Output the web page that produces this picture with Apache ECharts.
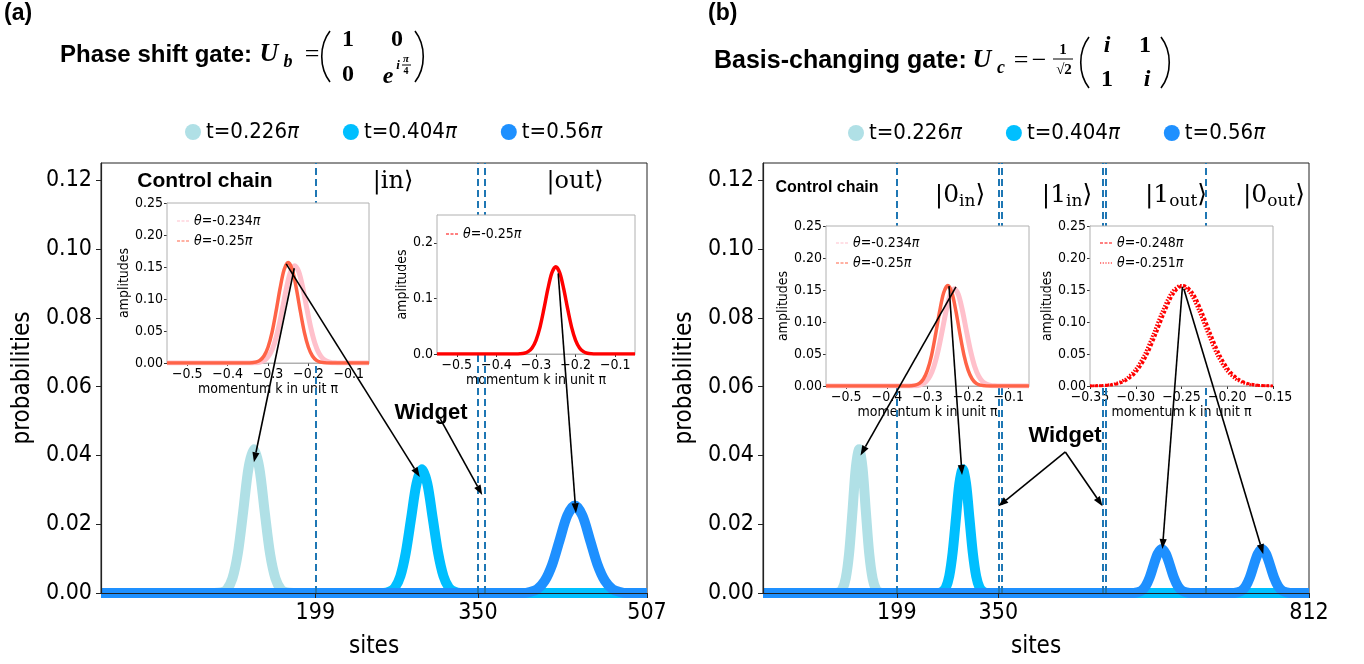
<!DOCTYPE html>
<html>
<head>
<meta charset="utf-8">
<title>Wave packet probabilities</title>
<script src="https://cdn.jsdelivr.net/npm/echarts@6.0.0/dist/echarts.min.js"></script>
<style>
  html, body { margin: 0; padding: 0; background: #fff; }
  #chart { width: 1364px; height: 664px; }
</style>
</head>
<body>
<div id="chart"></div>
<script>
// ---------- values ----------
const seriesNames = ['t=0.226π', 't=0.404π', 't=0.56π']
const seriesColors = ['#B0E0E6', '#00BFFF', '#1E90FF']

const probTicks = [0, 0.02, 0.04, 0.06, 0.08, 0.10, 0.12]
const siteTicksA = [199, 350, 507]
const siteTicksB = [199, 350, 812]
const wallSitesA = [199, 350, 356]
const wallSitesB = [199, 350, 355, 505, 510, 659]

// panel (a) probabilities  [site, probability]
const lightA = [[0,0],[105,0],[112,0.0002],[117,0.0011],[122,0.0042],[127,0.0114],[132,0.0236],[137,0.0364],[142,0.0418],[147,0.0364],[152,0.0236],[157,0.0114],[162,0.0042],[167,0.0011],[172,0.0002],[179,0],[507,0]]
const cyanA = [[0,0],[262,0],[268,0.0004],[273,0.0016],[278,0.0049],[283,0.0117],[288,0.0218],[293,0.0318],[298,0.036],[303,0.0318],[308,0.0218],[313,0.0117],[318,0.0049],[323,0.0016],[328,0.0004],[334,0],[507,0]]
const blueA = [[0,0],[392,0],[398,0.0003],[405,0.0011],[412,0.0035],[419,0.0083],[426,0.0155],[433,0.0225],[440,0.0254],[447,0.0225],[454,0.0155],[461,0.0083],[468,0.0035],[475,0.0011],[482,0.0003],[488,0],[507,0]]

// panel (b) probabilities
const lightB = [[0,0],[106,0],[113,0.0002],[118,0.0011],[123,0.0042],[128,0.0114],[133,0.0236],[138,0.0364],[143,0.0418],[148,0.0364],[153,0.0236],[158,0.0114],[163,0.0042],[168,0.0011],[173,0.0002],[180,0],[812,0]]
const cyanB = [[0,0],[261,0],[267,0.0004],[272,0.0016],[277,0.0049],[282,0.0117],[287,0.0218],[292,0.0318],[297,0.036],[302,0.0318],[307,0.0218],[312,0.0117],[317,0.0049],[322,0.0016],[327,0.0004],[333,0],[812,0]]
const blueB = [[0,0],[551,0],[557,0.0002],[563,0.0007],[569,0.002],[575,0.0045],[581,0.0081],[587,0.0114],[593,0.0128],[599,0.0114],[605,0.0081],[611,0.0045],[617,0.002],[623,0.0007],[629,0.0002],[635,0],[700,0],[706,0.0002],[712,0.0007],[718,0.002],[724,0.0045],[730,0.0081],[736,0.0114],[742,0.0128],[748,0.0114],[754,0.0081],[760,0.0045],[766,0.002],[772,0.0007],[778,0.0002],[784,0],[812,0]]

// insets: amplitudes vs momentum k (unit pi)
const kTicksWide = [-0.5, -0.4, -0.3, -0.2, -0.1]
const kTicksNarrow = [-0.35, -0.30, -0.25, -0.20, -0.15]
const ampTicks = [0, 0.05, 0.10, 0.15, 0.20, 0.25]
const ampTicksCoarse = [0, 0.1, 0.2]
const pink234 = [[-0.55,0],[-0.344,0],[-0.334,0.0003],[-0.324,0.0009],[-0.314,0.0026],[-0.304,0.0067],[-0.294,0.0153],[-0.284,0.0309],[-0.274,0.0548],[-0.264,0.0856],[-0.254,0.1178],[-0.244,0.1426],[-0.234,0.152],[-0.224,0.1426],[-0.214,0.1178],[-0.204,0.0856],[-0.194,0.0548],[-0.184,0.0309],[-0.174,0.0153],[-0.164,0.0067],[-0.154,0.0026],[-0.144,0.0009],[-0.134,0.0003],[-0.124,0],[-0.05,0]]
const tomato25 = [[-0.55,0],[-0.35,0],[-0.34,0.0004],[-0.33,0.0014],[-0.32,0.0042],[-0.31,0.011],[-0.30,0.0247],[-0.29,0.048],[-0.28,0.081],[-0.27,0.117],[-0.26,0.146],[-0.25,0.157],[-0.24,0.146],[-0.23,0.117],[-0.22,0.081],[-0.21,0.048],[-0.20,0.0247],[-0.19,0.011],[-0.18,0.0042],[-0.17,0.0014],[-0.16,0.0004],[-0.15,0],[-0.05,0]]
const red248 = [[-0.35,0],[-0.348,0.0001],[-0.338,0.0004],[-0.328,0.0014],[-0.318,0.0042],[-0.308,0.011],[-0.298,0.0247],[-0.288,0.048],[-0.278,0.081],[-0.268,0.117],[-0.258,0.146],[-0.248,0.157],[-0.238,0.146],[-0.228,0.117],[-0.218,0.081],[-0.208,0.048],[-0.198,0.0247],[-0.188,0.011],[-0.178,0.0042],[-0.168,0.0014],[-0.158,0.0004],[-0.15,0.0001]]
const red251 = [[-0.35,0.0001],[-0.341,0.0004],[-0.331,0.0014],[-0.321,0.0042],[-0.311,0.011],[-0.301,0.0247],[-0.291,0.048],[-0.281,0.081],[-0.271,0.117],[-0.261,0.146],[-0.251,0.157],[-0.241,0.146],[-0.231,0.117],[-0.221,0.081],[-0.211,0.048],[-0.201,0.0247],[-0.191,0.011],[-0.181,0.0042],[-0.171,0.0014],[-0.161,0.0004],[-0.151,0.0001]]

// arrows: [fromGrid, x, y, toGrid, x, y]
const arrowList = [
    [1, -0.235, 0.148, 0, 142, 0.038],
    [1, -0.255, 0.155, 0, 296, 0.0337],
    [2, -0.244, 0.145, 0, 441, 0.0232],
    [0, 315, 0.0506, 0, 354, 0.0285],
    [4, -0.230, 0.155, 3, 145, 0.040],
    [4, -0.247, 0.156, 3, 296, 0.0343],
    [5, -0.249, 0.155, 3, 594, 0.0128],
    [5, -0.2475, 0.152, 3, 744, 0.0113],
    [3, 449.6, 0.041, 3, 350, 0.0252],
    [3, 449.6, 0.041, 3, 505, 0.0252]
]

// ---------- styles ----------
const SANS = '"DejaVu Sans Condensed", "DejaVu Sans", sans-serif'
const ARIAL = '"Liberation Sans", Arial, sans-serif'
const SERIF = '"DejaVu Serif", "Liberation Serif", serif'
const MATH = '"Liberation Serif", "DejaVu Serif", serif'
const WALL = '#1f77b4'
const DASH_ICON = 'path://M0,0h4v1.4h-4z M6,0h4v1.4h-4z M12,0h4v1.4h-4z'
const DOT_ICON = 'path://M0,0h1.6v1.4h-1.6z M3.6,0h1.6v1.4h-1.6z M7.2,0h1.6v1.4h-1.6z M10.8,0h1.6v1.4h-1.6z M14.4,0h1.6v1.4h-1.6z'

const chart = echarts.init(document.getElementById('chart'))

function minusFmt(d) {
    return v => (v < 0 ? '\u2212' : '') + Math.abs(v).toFixed(d)
}
function stripName(n) { return n.replace(/\u200b/g, '') }

const grids = [
    { left: 101, top: 163, width: 546, height: 434, show: true, borderColor: '#222', borderWidth: 1, z: 1 },
    { left: 167, top: 203, width: 202, height: 160, show: true, backgroundColor: '#fff', borderColor: '#b0b0b0', borderWidth: 1, z: 10 },
    { left: 437, top: 215, width: 198, height: 139, show: true, backgroundColor: '#fff', borderColor: '#b0b0b0', borderWidth: 1, z: 10 },
    { left: 763, top: 163, width: 546, height: 434, show: true, borderColor: '#222', borderWidth: 1, z: 1 },
    { left: 826, top: 226, width: 203, height: 160, show: true, backgroundColor: '#fff', borderColor: '#b0b0b0', borderWidth: 1, z: 10 },
    { left: 1090, top: 226, width: 183, height: 160, show: true, backgroundColor: '#fff', borderColor: '#b0b0b0', borderWidth: 1, z: 10 }
]

function mainX(gi, max, ticks) {
    return {
        gridIndex: gi, type: 'value', min: 0, max: max, z: 50,
        name: 'sites', nameLocation: 'middle', nameGap: 42,
        nameTextStyle: { fontSize: 24, fontFamily: SANS, color: '#000' },
        axisLine: { onZero: false, lineStyle: { color: '#222', width: 1.2 } },
        axisTick: { customValues: ticks, length: 5, lineStyle: { color: '#222' } },
        axisLabel: { customValues: ticks, fontSize: 23, fontFamily: SANS, color: '#000', margin: 9 },
        splitLine: { show: false }
    }
}
function mainY(gi) {
    return {
        gridIndex: gi, type: 'value', min: 0, max: 0.125, z: 50,
        name: 'probabilities', nameLocation: 'middle', nameGap: 66,
        nameTextStyle: { fontSize: 24, fontFamily: SANS, color: '#000' },
        axisLine: { show: true, onZero: false, lineStyle: { color: '#222', width: 1.2 } },
        axisTick: { show: true, customValues: probTicks, length: 5, lineStyle: { color: '#222' } },
        axisLabel: { customValues: probTicks, formatter: v => v.toFixed(2), fontSize: 23, fontFamily: SANS, color: '#000', margin: 9 },
        splitLine: { show: false }
    }
}
function insetX(gi, min, max, ticks, dec, gap) {
    return {
        gridIndex: gi, type: 'value', min: min, max: max,
        name: 'momentum k in unit π', nameLocation: 'middle', nameGap: gap,
        nameTextStyle: { fontSize: 14, fontFamily: SANS, color: '#000' },
        axisLine: { onZero: false, lineStyle: { color: '#b0b0b0' } },
        axisTick: { customValues: ticks, length: 3, lineStyle: { color: '#333' } },
        axisLabel: { customValues: ticks, formatter: minusFmt(dec), fontSize: 14, fontFamily: SANS, color: '#000', margin: 4 },
        splitLine: { show: false }
    }
}
function insetY(gi, ticks, dec, gap) {
    return {
        gridIndex: gi, type: 'value', min: 0, max: 0.25,
        name: 'amplitudes', nameLocation: 'middle', nameGap: gap,
        nameTextStyle: { fontSize: 14, fontFamily: SANS, color: '#000' },
        axisLine: { show: true, onZero: false, lineStyle: { color: '#b0b0b0' } },
        axisTick: { show: true, customValues: ticks, length: 3, lineStyle: { color: '#333' } },
        axisLabel: { customValues: ticks, formatter: v => v.toFixed(dec), fontSize: 14, fontFamily: SANS, color: '#000', margin: 4 },
        splitLine: { show: false }
    }
}

function probLine(gi, idx, data, walls) {
    const s = {
        type: 'line', name: seriesNames[idx], xAxisIndex: gi, yAxisIndex: gi,
        data: data, smooth: 0.3, symbol: 'circle', showSymbol: false, silent: true, clip: true,
        lineStyle: { width: 10, color: seriesColors[idx], join: 'round', cap: 'butt' },
        itemStyle: { color: seriesColors[idx] }, z: 2 + idx
    }
    if (walls) {
        s.markLine = {
            silent: true, symbol: ['none', 'none'], label: { show: false },
            lineStyle: { type: [7, 4], color: WALL, width: 2 },
            data: walls.map(v => ({ xAxis: v }))
        }
    }
    return s
}
function ampLine(gi, data, color, width, type) {
    return {
        type: 'line', xAxisIndex: gi, yAxisIndex: gi, data: data, smooth: 0.3,
        showSymbol: false, silent: true, z: 12,
        lineStyle: { width: width, color: color, type: type || 'solid' },
        itemStyle: { color: color }
    }
}
function vLine(gi, name, k, color, type) {
    return {
        type: 'line', name: name, xAxisIndex: gi, yAxisIndex: gi, data: [], symbol: 'none', z: 13,
        lineStyle: { width: 1, color: color, type: type }, itemStyle: { color: color },
        markLine: {
            silent: true, symbol: ['none', 'none'], label: { show: false },
            lineStyle: { width: 1, color: color, type: type },
            data: [{ xAxis: k }]
        }
    }
}

function mainLegend(left, top) {
    return {
        data: seriesNames, left: left, top: top, icon: 'circle', itemWidth: 16, itemHeight: 16, itemGap: 44,
        selectedMode: false,
        formatter: n => '{r|' + n.slice(0, -1) + '}{i|π}',
        textStyle: {
            color: '#000',
            rich: {
                r: { fontSize: 22, fontFamily: SANS, color: '#000' },
                i: { fontSize: 22, fontFamily: SANS, fontStyle: 'italic', color: '#000' }
            }
        }
    }
}
function insetLegend(items, left, top) {
    return {
        data: items.map(it => ({ name: it[0], icon: it[1] })),
        left: left, top: top, orient: 'vertical', itemWidth: 12, itemHeight: 1.1, itemGap: 6,
        selectedMode: false, z: 20,
        formatter: n => { const s = stripName(n); return '{i|θ}{r|' + s.slice(1, -1) + '}{i|π}' },
        textStyle: {
            color: '#000',
            rich: {
                r: { fontSize: 14, fontFamily: SANS, color: '#000' },
                i: { fontSize: 14, fontFamily: SANS, fontStyle: 'italic', color: '#000' }
            }
        }
    }
}

const option = {
    animation: false,
    backgroundColor: '#fff',
    textStyle: { fontFamily: SANS },
    grid: grids,
    xAxis: [
        mainX(0, 507, siteTicksA),
        insetX(1, -0.55, -0.05, kTicksWide, 1, 19),
        insetX(2, -0.55, -0.05, kTicksWide, 1, 19),
        mainX(3, 812, siteTicksB),
        insetX(4, -0.55, -0.05, kTicksWide, 1, 19),
        insetX(5, -0.35, -0.15, kTicksNarrow, 2, 19)
    ],
    yAxis: [
        mainY(0),
        insetY(1, ampTicks, 2, 33),
        insetY(2, ampTicksCoarse, 1, 27),
        mainY(3),
        insetY(4, ampTicks, 2, 33),
        insetY(5, ampTicks, 2, 33)
    ],
    legend: [
        mainLegend(180, 116),
        mainLegend(843, 117),
        insetLegend([['θ=-0.234π', DASH_ICON], ['θ=-0.25π', DASH_ICON]], 172, 209),
        insetLegend([['θ=-0.25π\u200b', DASH_ICON]], 441, 222),
        insetLegend([['θ=-0.234π\u200b', DASH_ICON], ['θ=-0.25π\u200b\u200b', DASH_ICON]], 831, 231),
        insetLegend([['θ=-0.248π', DASH_ICON], ['θ=-0.251π', DOT_ICON]], 1095, 231)
    ],
    series: [
        probLine(0, 0, lightA, wallSitesA),
        probLine(0, 1, cyanA),
        probLine(0, 2, blueA),
        ampLine(1, pink234, '#FFC0CB', 5),
        ampLine(1, tomato25, '#FF6347', 3.5),
        vLine(1, 'θ=-0.234π', -0.234, '#FFC0CB', [3, 2]),
        vLine(1, 'θ=-0.25π', -0.25, '#FF6347', [3, 2]),
        ampLine(2, tomato25, '#FF0000', 3.5),
        vLine(2, 'θ=-0.25π\u200b', -0.25, '#FF0000', [3, 2]),
        probLine(3, 0, lightB, wallSitesB),
        probLine(3, 1, cyanB),
        probLine(3, 2, blueB),
        ampLine(4, pink234, '#FFC0CB', 5),
        ampLine(4, tomato25, '#FF6347', 3.5),
        vLine(4, 'θ=-0.234π\u200b', -0.234, '#FFC0CB', [3, 2]),
        vLine(4, 'θ=-0.25π\u200b\u200b', -0.25, '#FF6347', [3, 2]),
        ampLine(5, red251, '#FF0000', 3, [1.5, 1.5]),
        ampLine(5, red248, '#FF0000', 3, [3, 2]),
        vLine(5, 'θ=-0.248π', -0.248, '#FF0000', [3, 2]),
        vLine(5, 'θ=-0.251π', -0.251, '#FF0000', [1, 1])
    ]
}
chart.setOption(option)

// ---------- annotations (titles, labels, arrows) ----------
function txt(x, y, text, font, align, extra) {
    return Object.assign({
        type: 'text', z: 100, silent: true,
        style: { x: x, y: y, text: text, font: font, fill: '#000', align: align || 'center', textAlign: align || 'center', verticalAlign: 'middle', textVerticalAlign: 'middle' }
    }, extra || {})
}
function paren(x0, y0, y1, open) {
    const bulge = open ? -11 : 11
    const h = y1 - y0
    return {
        type: 'bezierCurve', z: 100, silent: true,
        shape: { x1: x0, y1: y0, x2: x0, y2: y1, cpx1: x0 + bulge, cpy1: y0 + h * 0.28, cpx2: x0 + bulge, cpy2: y0 + h * 0.72 },
        style: { stroke: '#000', lineWidth: 1.6, fill: null }
    }
}
function ket(x, y, main, sub, size) {
    const rich = {
        n: { fontSize: size, fontFamily: SERIF, fill: '#000', color: '#000', lineHeight: size + 6 },
        s: { fontSize: Math.round(size * 0.68), fontFamily: SERIF, fill: '#000', color: '#000', lineHeight: Math.round(size * 0.6), verticalAlign: 'bottom' }
    }
    let t = '{n||' + main + '}'
    if (sub) t += '{s|' + sub + '}'
    t += '{n|⟩}'
    return {
        type: 'text', z: 100, silent: true,
        style: { x: x, y: y, text: t, rich: rich, align: 'center', textAlign: 'center', verticalAlign: 'middle', textVerticalAlign: 'middle' }
    }
}
// white strip hides the lower half of the thick lines below the x axis
function underAxis(gi) {
    const gr = grids[gi]
    return {
        type: 'rect', z: 40, silent: true,
        shape: { x: gr.left, y: gr.top + gr.height + 1.1, width: gr.width, height: 6 },
        style: { fill: '#fff' }
    }
}

const B = 'bold ', BI = 'italic bold '
const g = [
    underAxis(0), underAxis(3),
    // panel (a) heading
    txt(4, 14, '(a)', B + '23px ' + ARIAL, 'left'),
    txt(60, 55, 'Phase shift gate:', B + '24px ' + ARIAL, 'left'),
    txt(269, 54, 'U', BI + '26px ' + MATH),
    txt(288, 62, 'b', BI + '18px ' + MATH),
    txt(312, 55, '=', '26px ' + MATH),
    paren(330, 31, 82, true),
    txt(348, 40, '1', B + '24px ' + MATH),
    txt(397, 40, '0', B + '24px ' + MATH),
    txt(348, 75, '0', B + '24px ' + MATH),
    txt(388, 77, 'e', BI + '24px ' + MATH),
    txt(398, 66, 'i', BI + '13px ' + MATH),
    txt(406, 59, 'π', BI + '11px ' + MATH),
    { type: 'line', z: 100, silent: true, shape: { x1: 402, y1: 65, x2: 411, y2: 65 }, style: { stroke: '#000', lineWidth: 1 } },
    txt(406, 71, '4', B + '10px ' + MATH),
    paren(415, 31, 82, false),

    // panel (b) heading
    txt(708, 14, '(b)', B + '23px ' + ARIAL, 'left'),
    txt(714, 61, 'Basis-changing gate:', B + '25px ' + ARIAL, 'left'),
    txt(982, 60, 'U', BI + '26px ' + MATH),
    txt(1001, 68, 'c', BI + '18px ' + MATH),
    txt(1021, 61, '=', '26px ' + MATH),
    txt(1039, 61, '\u2212', '26px ' + MATH),
    txt(1063, 50, '1', B + '15px ' + MATH),
    { type: 'line', z: 100, silent: true, shape: { x1: 1053, y1: 59, x2: 1073, y2: 59 }, style: { stroke: '#000', lineWidth: 1 } },
    txt(1064, 70, '√2', B + '15px ' + MATH),
    paren(1089, 37, 88, true),
    txt(1107, 46, 'i', BI + '24px ' + MATH),
    txt(1145, 46, '1', B + '24px ' + MATH),
    txt(1107, 80, '1', B + '24px ' + MATH),
    txt(1147, 80, 'i', BI + '24px ' + MATH),
    paren(1161, 37, 88, false),

    // labels inside the main plots
    txt(205, 181, 'Control chain', B + '21px ' + ARIAL),
    ket(393, 182, 'in', null, 24),
    ket(575, 182, 'out', null, 24),
    txt(431, 413, 'Widget', B + '22px ' + ARIAL),
    txt(827, 188, 'Control chain', B + '16px ' + ARIAL),
    ket(960, 195, '0', 'in', 25),
    ket(1067, 195, '1', 'in', 25),
    ket(1176, 195, '1', 'out', 25),
    ket(1274, 195, '0', 'out', 25),
    txt(1065, 436, 'Widget', B + '22px ' + ARIAL)
]

arrowList.forEach(a => {
    const p1 = chart.convertToPixel({ gridIndex: a[0] }, [a[1], a[2]])
    const p2 = chart.convertToPixel({ gridIndex: a[3] }, [a[4], a[5]])
    const dx = p2[0] - p1[0], dy = p2[1] - p1[1]
    const len = Math.sqrt(dx * dx + dy * dy)
    const ux = dx / len, uy = dy / len
    const L = 10, W = 3.6
    const bx = p2[0] - ux * L, by = p2[1] - uy * L
    g.push({
        type: 'line', z: 101, silent: true,
        shape: { x1: p1[0], y1: p1[1], x2: bx, y2: by },
        style: { stroke: '#000', lineWidth: 1.6 }
    })
    g.push({
        type: 'polygon', z: 101, silent: true,
        shape: { points: [[p2[0], p2[1]], [bx - uy * W, by + ux * W], [bx + uy * W, by - ux * W]] },
        style: { fill: '#000' }
    })
})

chart.setOption({ graphic: { elements: g } })
</script>
</body>
</html>
